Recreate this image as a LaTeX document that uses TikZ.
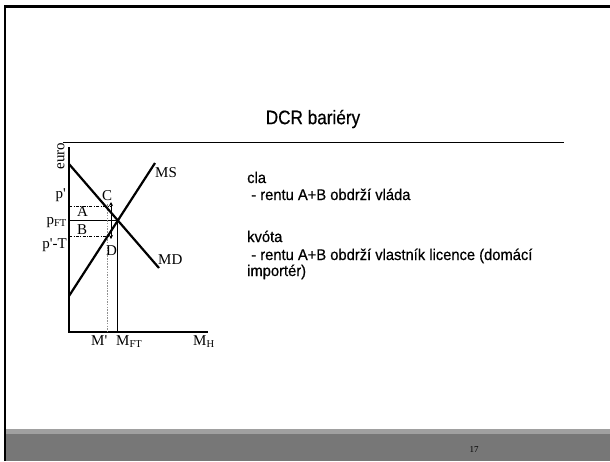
\documentclass[tikz,border=0pt]{standalone}
\usepackage{fontspec}
\setmainfont{Liberation Serif}
\newfontfamily\arialfont{Liberation Sans}[FakeStretch=0.95,FakeBold=0.5]
\newfontfamily\titlefont{Liberation Sans}[FakeStretch=0.88,FakeBold=0.5]
\usetikzlibrary{arrows.meta}
\definecolor{footlight}{HTML}{A0A0A0}
\definecolor{footdark}{HTML}{777777}
\definecolor{dotgray}{HTML}{909090}
\newcommand\ap{\textquotesingle}
\begin{document}
\begin{tikzpicture}[x=1pt,y=-1pt,
  lbl/.style={inner sep=0pt,font=\fontsize{15}{15}\selectfont},
  txt/.style={inner sep=0pt,anchor=base west,font=\arialfont\fontsize{15.5}{19}\selectfont},
  curve/.style={line width=2.2pt},
  axis/.style={line width=2.4pt},
  dashdot/.style={line width=0.7pt,dash pattern=on 3pt off 1.5pt on 0.8pt off 1.5pt},
  tick/.style={-{Stealth[length=4pt,width=4pt]},line width=0.8pt}]
\useasboundingbox (0,0) rectangle (610,461);
\fill[white] (0,0) rectangle (610,461);
% footer
\fill[footlight] (6,429) rectangle (610,434);
\fill[footdark] (6,434) rectangle (610,461);
\node[inner sep=0pt,font=\fontsize{9}{9}\selectfont] (pg) at (474,450) {17};
% frame
\draw[line width=2.5pt] (5,461) -- (5,6.5) -- (610,6.5);
% title
\node[inner sep=0pt,font=\titlefont\fontsize{19.5}{19.5}\selectfont] (title) at (313,119) {DCR bariéry};
\coordinate (r1) at (63,142);
\coordinate (r2) at (564,142);
\draw[line width=1pt] (r1) -- (r2);
% axes
\coordinate (O) at (69,332);
\coordinate (ytop) at (69,147);
\coordinate (xend) at (208,332);
\draw[axis] (ytop) -- (O) -- (xend);
% curves
\coordinate (md1) at (69,164);
\coordinate (md2) at (159,268);
\coordinate (ms1) at (69,296);
\coordinate (ms2) at (155,163);
\coordinate (E) at (117,220);
% price lines
\coordinate (pfty) at (69,220);
\draw[line width=0.8pt] (pfty) -- (E);
\coordinate (mft) at (117,332);
\draw[line width=0.8pt] (E) -- (mft);
\coordinate (ppy) at (69,206);
\coordinate (ppx) at (112,206);
\draw[dashdot] (ppy) -- (ppx);
\coordinate (pty) at (69,236);
\coordinate (ptx) at (112,236);
\draw[dashdot] (pty) -- (ptx);
\coordinate (mp1) at (107.5,204);
\coordinate (mp2) at (107.5,331);
\draw[dotgray,line width=0.8pt,dash pattern=on 1.5pt off 1.2pt] (mp1) -- (mp2);
\draw[curve] (md1) -- (md2);
\draw[curve] (ms1) -- (ms2);
% arrows
\coordinate (aup) at (111,202);
\coordinate (adn) at (111,239);
\coordinate (amid) at (111,220);
\draw[tick] (amid) -- (aup);
\draw[tick] (amid) -- (adn);
% labels
\node[lbl,rotate=90] (euro) at (61,156) {euro};
\node[lbl,anchor=base east] (lp) at (66,198) {p\ap};
\node[lbl,anchor=base east] (lpft) at (67,224) {p\textsubscript{FT}};
\node[lbl,anchor=base east] (lpt) at (67,248) {p\ap-T};
\node[lbl,anchor=base west] (lA) at (77,216) {A};
\node[lbl,anchor=base west] (lB) at (77,234) {B};
\node[lbl,anchor=base west] (lC) at (102,200) {C};
\node[lbl,anchor=base west] (lD) at (106,255) {D};
\node[lbl,anchor=base west] (lMS) at (155,177) {MS};
\node[lbl,anchor=base west] (lMD) at (158,264) {MD};
\node[lbl,anchor=base west] (lM1) at (91,345) {M\ap};
\node[lbl,anchor=base west] (lM2) at (116,345) {M\textsubscript{FT}};
\node[lbl,anchor=base west] (lM3) at (193,345) {M\textsubscript{H}};
% text
\node[txt] (t1) at (247,183) {cla};
\node[txt] (t1b) at (247,200) {\ - rentu A+B obdrží vláda};
\node[txt] (t2) at (247,242) {kvóta};
\node[txt] (t2b) at (247,260) {\ - rentu A+B obdrží vlastník licence (domácí};
\node[txt] (t2c) at (247,276) {importér)};
\end{tikzpicture}
\end{document}
